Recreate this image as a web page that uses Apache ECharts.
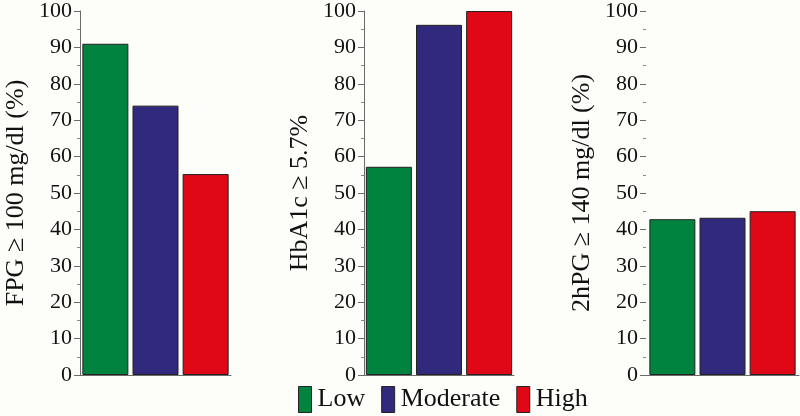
<!DOCTYPE html>
<html>
<head>
<meta charset="utf-8">
<script src="https://cdn.jsdelivr.net/npm/echarts@6/dist/echarts.min.js"></script>
<style>html,body{margin:0;padding:0;background:#fdfdf9;}#c{width:800px;height:416px;}</style>
</head>
<body>
<div id="c"></div>
<script>
var groups = ['Low', 'Moderate', 'High'];
var colors = ['#00833e', '#30297c', '#e00716'];
var panelNames = ['FPG \u2265 100 mg/dl (%)', 'HbA1c \u2265 5.7%', '2hPG \u2265 140 mg/dl (%)'];
var fpg = [91, 74, 55.2];
var hba1c = [57.2, 96.2, 100];
var hpg2 = [42.8, 43.2, 45];
var yTicks = [0, 10, 20, 30, 40, 50, 60, 70, 80, 90, 100];
var panelData = [fpg, hba1c, hpg2];

var FONT = '"Liberation Serif", "Times New Roman", Times, serif';
var grids = [
  {left: 80, top: 10.5, width: 151, height: 364.5},
  {left: 364, top: 10.5, width: 150, height: 364.5},
  {left: 646, top: 10.5, width: 153, height: 364.5}
];
var xAxes = [], yAxes = [], series = [];
for (var p = 0; p < 3; p++) {
  xAxes.push({
    gridIndex: p, type: 'category', data: [''],
    axisLine: {show: true, lineStyle: {color: '#6b6b6b', width: 1}},
    axisTick: {show: false}, axisLabel: {show: false}
  });
  yAxes.push({
    gridIndex: p, type: 'value', min: yTicks[0], max: yTicks[yTicks.length - 1], interval: 10,
    name: panelNames[p], nameLocation: 'middle', nameGap: 51,
    nameTextStyle: {fontFamily: FONT, fontSize: 26, color: '#111'},
    axisLine: {show: p < 2, lineStyle: {color: '#6b6b6b', width: 1}},
    axisTick: {show: true, inside: false, length: 6, lineStyle: {color: '#6b6b6b'}},
    minorTick: {show: true, splitNumber: 2, length: 3, lineStyle: {color: '#888'}},
    splitLine: {show: false},
    axisLabel: {fontFamily: FONT, fontSize: 22, color: '#111', margin: 8}
  });
  for (var g = 0; g < 3; g++) {
    series.push({
      type: 'bar', name: groups[g], xAxisIndex: p, yAxisIndex: p,
      data: [panelData[p][g]], barWidth: 46, barGap: '9%',
      itemStyle: {color: colors[g], borderColor: '#222', borderWidth: 1},
      animation: false
    });
  }
}
var chart = echarts.init(document.getElementById('c'));
chart.setOption({
  backgroundColor: '#fdfdf9',
  animation: false,
  color: colors,
  grid: grids,
  xAxis: xAxes,
  yAxis: yAxes,
  legend: {
    data: groups, bottom: 3, left: 298, padding: 0, itemWidth: 13, itemHeight: 26, itemGap: 16,
    icon: 'rect',
    itemStyle: {borderColor: '#222', borderWidth: 1},
    textStyle: {fontFamily: FONT, fontSize: 26, color: '#111', padding: [0, 0, 0, 1]}
  },
  series: series
});
</script>
</body>
</html>
